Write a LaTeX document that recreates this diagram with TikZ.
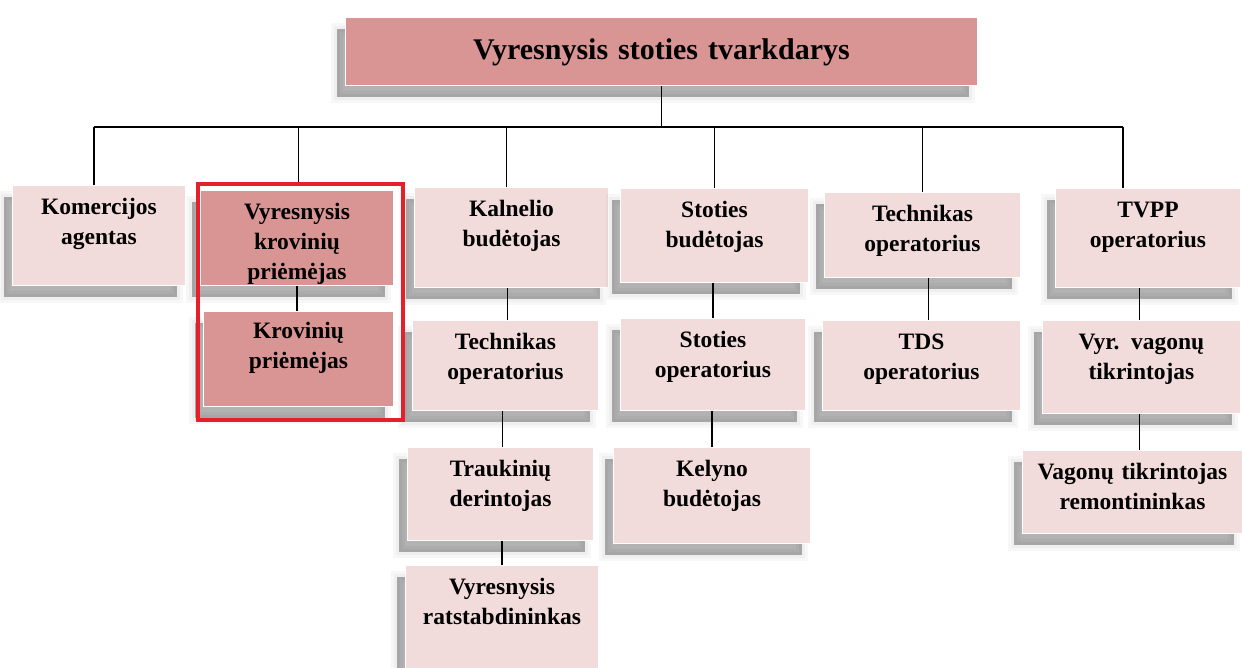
\documentclass[tikz,border=0pt]{standalone}
\usepackage{fontspec}
\setmainfont{Liberation Serif}

\definecolor{boxlight}{HTML}{F2DCDB}
\definecolor{boxdark}{HTML}{D99594}
\definecolor{framered}{HTML}{E5202A}

\tikzset{
  softshadow/.style={
    preaction={draw=black, line width=12pt, draw opacity=0.03,
      transform canvas={xshift=-9pt, yshift=-11pt}},
    preaction={draw=black, line width=6pt, draw opacity=0.03, fill=black, fill opacity=0.3,
      transform canvas={xshift=-9pt, yshift=-11pt}}},
  pbox/.style={anchor=north west, fill=boxlight, draw=white, line width=1pt,
    inner sep=0pt, align=center, text height=29pt,
    font=\bfseries\fontsize{23.5}{30}\selectfont, softshadow},
  dbox/.style={pbox, fill=boxdark},
  link/.style={line width=1.4pt},
}

\begin{document}
\begin{tikzpicture}[x=1pt, y=-1pt]

    \fill[white] (0,0) rectangle (1242,667);
    \useasboundingbox (0,0) rectangle (1242,667);

    % 1. Vadovas
    \node[dbox, text width=632pt, text height=42pt, text depth=26pt,
      font=\bfseries\fontsize{30}{36}\selectfont] (vst) at (345,17) {Vyresnysis stoties tvarkdarys};

    % 2. Pirma eilė
    \node[pbox, text width=173pt, text depth=71pt] (kom) at (12,185) {Komercijos\\agentas};
    \node[dbox, text width=193pt, text depth=66pt] (vkp) at (200,190) {Vyresnysis\\krovinių\\priėmėjas};
    \node[pbox, text width=194pt, text depth=71pt] (kal) at (414,187) {Kalnelio\\budėtojas};
    \node[pbox, text width=188pt, text depth=65pt] (stb) at (620,188) {Stoties\\budėtojas};
    \node[pbox, text width=196pt, text depth=56pt] (teh) at (824,192) {Technikas\\operatorius};
    \node[pbox, text width=185pt, text depth=70pt] (tvpp) at (1055,188) {TVPP\\operatorius};

    % 3. Antra eilė
    \node[dbox, text width=190pt, text depth=68pt, text height=27pt] (kp) at (203,311) {Krovinių\\priėmėjas};
    \node[pbox, text width=186pt, text depth=61pt] (teo) at (412,320) {Technikas\\operatorius};
    \node[pbox, text width=185pt, text depth=63pt] (sto) at (620,318) {Stoties\\operatorius};
    \node[pbox, text width=198pt, text depth=61pt] (tds) at (822,320) {TDS\\operatorius};
    \node[pbox, text width=198pt, text depth=64pt] (vvt) at (1042,320) {Vyr. vagonų\\tikrintojas};

    % 4. Trečia ir ketvirta eilė
    \node[pbox, text width=186pt, text depth=64pt] (trd) at (407,447) {Traukinių\\derintojas};
    \node[pbox, text width=197pt, text depth=67pt] (kel) at (613,447) {Kelyno\\budėtojas};
    \node[pbox, text width=220pt, text depth=54pt] (vtr) at (1022,450) {Vagonų tikrintojas\\remontininkas};
    \node[pbox, text width=193pt, text depth=81pt] (vrs) at (405,565) {Vyresnysis\\ratstabdininkas};

    % 5. Raudonas rėmelis
    \node[draw=framered, line width=3.5pt, minimum width=205pt, minimum height=236pt,
      anchor=north west, inner sep=0pt] (remas) at (196,182) {};

    % 6. Jungtys
    \coordinate (bus) at (0,127);
    \draw[link] (vst.south) -- (vst.south |- bus);
    \draw[link] ([xshift=-5pt]kom.north |- bus) -- ([xshift=-25pt]tvpp.north |- bus);
    \draw[link] ([xshift=-5pt]kom.north) -- ([xshift=-5pt]kom.north |- bus);
    \draw[link] ([xshift=-2pt]remas.north) -- ([xshift=-2pt]remas.north |- bus);
    \draw[link] ([xshift=-5pt]kal.north) -- ([xshift=-5pt]kal.north |- bus);
    \draw[link] (stb.north) -- (stb.north |- bus);
    \draw[link] (teh.north) -- (teh.north |- bus);
    \draw[link] ([xshift=-25pt]tvpp.north) -- ([xshift=-25pt]tvpp.north |- bus);

    \draw[link] (vkp.south) -- (vkp.south |- kp.north);
    \draw[link] ([xshift=2pt]teo.north) -- ([xshift=2pt]teo.north |- kal.south);
    \draw[link] (sto.north) -- (sto.north |- stb.south);
    \draw[link] ([xshift=7pt]tds.north) -- ([xshift=7pt]tds.north |- teh.south);
    \draw[link] ([xshift=-2pt]vvt.north) -- ([xshift=-2pt]vvt.north |- tvpp.south);
    \draw[link] ([xshift=2pt]trd.north) -- ([xshift=2pt]trd.north |- teo.south);
    \draw[link] (kel.north) -- (kel.north |- sto.south);
    \draw[link] ([xshift=7pt]vtr.north) -- ([xshift=7pt]vtr.north |- vvt.south);
    \draw[link] (vrs.north) -- (vrs.north |- trd.south);

\end{tikzpicture}
\end{document}
